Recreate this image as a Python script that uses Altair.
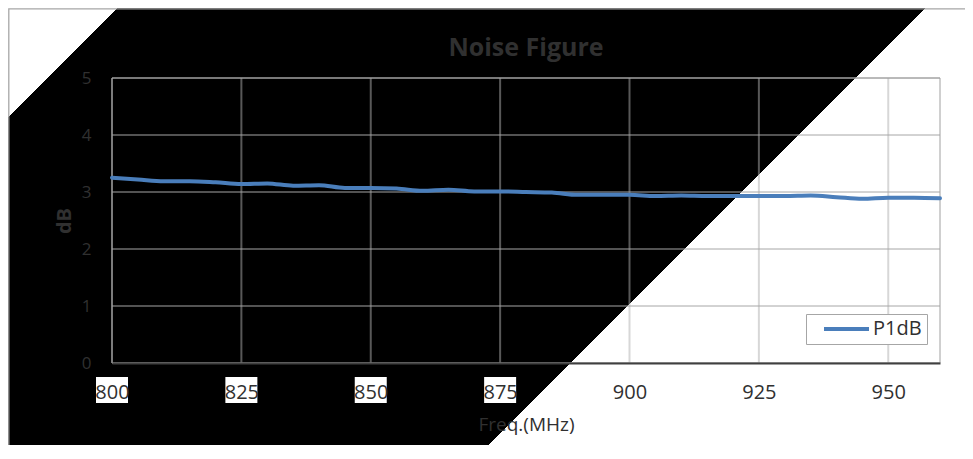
import altair as alt
import pandas as pd

# ---- data ----
freq = [800, 805, 810, 815, 820, 825, 830, 835, 840, 845, 850, 855, 860, 865, 870, 875,
        880, 885, 890, 895, 900, 905, 910, 915, 920, 925, 930, 935, 940, 945, 950, 955, 960]
noise_db = [3.25, 3.22, 3.19, 3.19, 3.17, 3.14, 3.15, 3.11, 3.12, 3.07, 3.07, 3.06, 3.02, 3.04, 3.01, 3.01,
            3.00, 2.99, 2.95, 2.95, 2.95, 2.93, 2.94, 2.93, 2.93, 2.93, 2.93, 2.94, 2.91, 2.88, 2.90, 2.90, 2.89]
series_name = "P1dB"
x_ticks = [800, 825, 850, 875, 900, 925, 950]
y_ticks = [0, 1, 2, 3, 4, 5]
chart_title = "Noise Figure"
x_title = "Freq.(MHz)"
y_title = "dB"

# ---- layout ----
W, H = 828, 285
PAD_L, PAD_T = 104, 70
CANVAS_W, CANVAS_H = 957, 437
TEXT = "#303030"
FONT = "Open Sans"
S = 957  # square backdrop side

df = pd.DataFrame({"freq": freq, "nf": noise_db, "series": [series_name] * len(freq)})
tx = pd.DataFrame({"freq": x_ticks})
ty = pd.DataFrame({"nf": y_ticks})
one = pd.DataFrame({"k": [0]})

xscale = alt.Scale(domain=[800, 960], nice=False, zero=False)
yscale = alt.Scale(domain=[0, 5], nice=False, zero=False)

x_axis = alt.Axis(
    values=x_ticks, format="d", grid=False, ticks=False,
    domain=True, domainColor="#404040", domainWidth=2,
    labelFont=FONT, labelFontSize=20, labelColor=TEXT, labelPadding=19,
    labelFlush=False, labelOverlap=False,
    title=x_title, titleFont=FONT, titleFontSize=19, titleFontWeight="normal",
    titleColor=TEXT, titlePadding=13, zindex=1)
y_axis = alt.Axis(
    values=y_ticks, format="d", grid=False, ticks=False, domain=False,
    labelFont=FONT, labelFontSize=17, labelColor=TEXT, labelPadding=21,
    labelFlush=False,
    title=y_title, titleFont=FONT, titleFontSize=20, titleFontWeight="bold",
    titleColor=TEXT, titleAngle=-90, titleX=-42, titleY=H / 2,
    titleBaseline="alphabetic", titleAlign="center", zindex=1)

t1 = 109 / (2 * S)
t2 = 917 / (2 * S)
grad = alt.LinearGradient(
    gradient="linear", x1=0, y1=0, x2=1, y2=1,
    stops=[
        alt.GradientStop(offset=0, color="white"),
        alt.GradientStop(offset=t1, color="white"),
        alt.GradientStop(offset=t1, color="black"),
        alt.GradientStop(offset=t2, color="black"),
        alt.GradientStop(offset=t2, color="white"),
        alt.GradientStop(offset=1, color="white"),
    ],
)

backdrop = alt.Chart(one).mark_rect(fill=grad).encode(
    x=alt.value(-PAD_L), x2=alt.value(-PAD_L + S),
    y=alt.value(-PAD_T), y2=alt.value(-PAD_T + S),
)

outer = alt.Chart(one).mark_rect(fillOpacity=0, stroke="#a6a6a6", strokeWidth=1.3).encode(
    x=alt.value(-PAD_L + 0.8), x2=alt.value(2000),
    y=alt.value(-PAD_T + 0.8), y2=alt.value(2000),
)

label_boxes = alt.Chart(tx).mark_rect(fill="white", width=32).encode(
    x=alt.X("freq:Q", scale=xscale, axis=x_axis),
    y=alt.value(H + 14), y2=alt.value(H + 40),
)

vgrid = alt.Chart(tx).mark_rule(stroke="#b0b0b0", strokeOpacity=0.5, strokeWidth=2).encode(
    x=alt.X("freq:Q", scale=xscale, axis=x_axis),
    y=alt.value(0), y2=alt.value(H),
)

hgrid = alt.Chart(ty).mark_rule(stroke="#a6a6a6", strokeWidth=1).encode(
    y=alt.Y("nf:Q", scale=yscale, axis=y_axis),
    x=alt.value(0), x2=alt.value(W),
)

border = alt.Chart(one).mark_rect(fillOpacity=0, stroke="#a0a0a0", strokeWidth=1).encode(
    x=alt.value(0), x2=alt.value(W), y=alt.value(0), y2=alt.value(H),
)

line = alt.Chart(df).mark_line(strokeWidth=4, interpolate="monotone", strokeCap="round").encode(
    x=alt.X("freq:Q", scale=xscale, axis=x_axis),
    y=alt.Y("nf:Q", scale=yscale, axis=y_axis),
    color=alt.Color("series:N", scale=alt.Scale(range=["#4a7ebb"]), legend=alt.Legend(
        title=None, orient="none", legendX=694, legendY=236,
        fillColor="white", strokeColor="#a6a6a6", padding=5, clipHeight=20,
        symbolType="stroke", symbolSize=2025, symbolStrokeWidth=4, symbolOffset=11,
        labelOffset=2, labelFont=FONT, labelFontSize=20, labelColor=TEXT, zindex=1)),
)

chart = alt.layer(backdrop, outer, label_boxes, vgrid, hgrid, border, line).properties(
    width=W, height=H,
    padding={"left": PAD_L, "top": PAD_T, "right": CANVAS_W - PAD_L - W, "bottom": CANVAS_H - PAD_T - H},
    autosize=alt.AutoSizeParams(type="none"),
    title=alt.TitleParams(chart_title, font=FONT, fontSize=25, fontWeight="bold", color=TEXT,
                          anchor="middle", frame="group", offset=0, dy=73, baseline="alphabetic", zindex=1),
    background="white",
).configure_view(stroke=None)

chart.save("out.html", embed_options={"renderer": "svg", "actions": False})
